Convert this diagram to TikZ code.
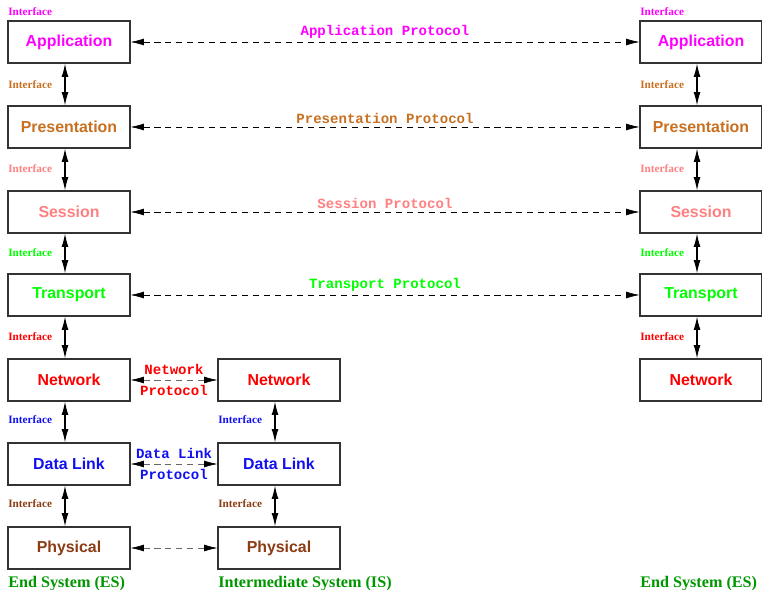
\documentclass[tikz,border=0pt]{standalone}
\usepackage{fontspec}
\setmainfont{Liberation Serif}
\setsansfont{Liberation Sans}
\setmonofont{Liberation Mono}
\usetikzlibrary{arrows.meta,positioning}
\definecolor{appcol}{RGB}{255,0,255}
\definecolor{prescol}{RGB}{200,112,32}
\definecolor{sesscol}{RGB}{255,128,128}
\definecolor{transcol}{RGB}{0,255,0}
\definecolor{netcol}{RGB}{255,0,0}
\definecolor{dlcol}{RGB}{16,16,240}
\definecolor{physcol}{RGB}{139,60,20}
\definecolor{syscol}{RGB}{0,150,0}

\begin{document}
\begin{tikzpicture}[x=0.025cm, y=-0.025cm,
	layer/.style = {draw=black!80, line width=0.8pt, fill=white, minimum width=3.05cm, minimum height=1.05cm, font=\sffamily\bfseries\fontsize{11.3}{13}\selectfont},
	iface/.style = {anchor=west, inner sep=0pt, font=\bfseries\fontsize{8}{9}\selectfont},
	ptext/.style = {font=\ttfamily\bfseries\fontsize{10}{11}\selectfont},
	sysname/.style = {anchor=west, inner sep=0pt, text=syscol, font=\bfseries\fontsize{11.5}{13}\selectfont},
	updown/.style = {{Latex[length=0.33cm,width=0.17cm]}-{Latex[length=0.33cm,width=0.17cm]}, thick, transform canvas={xshift=-0.1cm}},
	proto/.style = {{Latex[length=0.33cm,width=0.17cm,color=black]}-{Latex[length=0.33cm,width=0.17cm,color=black]}, dash pattern=on 4.3pt off 3.5pt},
	peer/.style = {proto, draw=black!60}]
	\useasboundingbox (0,0) rectangle (762,590);
	% end system, left
	\node[layer, text=appcol] (app-l) at (69,42) {Application};
	\node[layer, text=prescol] (pres-l) at (69,127) {Presentation};
	\node[layer, text=sesscol] (sess-l) at (69,212) {Session};
	\node[layer, text=transcol] (trans-l) at (69,295) {Transport};
	\node[layer, text=netcol] (net-l) at (69,380) {Network};
	\node[layer, text=dlcol] (dl-l) at (69,464) {Data Link};
	\node[layer, text=physcol] (phys-l) at (69,548) {Physical};
	% intermediate system
	\node[layer, text=netcol] (net-m) at (279,380) {Network};
	\node[layer, text=dlcol] (dl-m) at (279,464) {Data Link};
	\node[layer, text=physcol] (phys-m) at (279,548) {Physical};
	% end system, right
	\node[layer, text=appcol] (app-r) at (701,42) {Application};
	\node[layer, text=prescol] (pres-r) at (701,127) {Presentation};
	\node[layer, text=sesscol] (sess-r) at (701,212) {Session};
	\node[layer, text=transcol] (trans-r) at (701,295) {Transport};
	\node[layer, text=netcol] (net-r) at (701,380) {Network};

	% interfaces
	\node[iface, text=appcol] (if0-l) at (8,12) {Interface};
	\node[iface, text=prescol] (if1-l) at (8,85) {Interface};
	\node[iface, text=sesscol] (if2-l) at (8,169) {Interface};
	\node[iface, text=transcol] (if3-l) at (8,253) {Interface};
	\node[iface, text=netcol] (if4-l) at (8,337) {Interface};
	\node[iface, text=dlcol] (if5-l) at (8,420) {Interface};
	\node[iface, text=physcol] (if6-l) at (8,504) {Interface};
	\node[iface, text=dlcol] (if5-m) at (218,420) {Interface};
	\node[iface, text=physcol] (if6-m) at (218,504) {Interface};
	\node[iface, text=appcol] (if0-r) at (640,12) {Interface};
	\node[iface, text=prescol] (if1-r) at (640,85) {Interface};
	\node[iface, text=sesscol] (if2-r) at (640,169) {Interface};
	\node[iface, text=transcol] (if3-r) at (640,253) {Interface};
	\node[iface, text=netcol] (if4-r) at (640,337) {Interface};

	\draw[updown] (app-l) -- (pres-l);
	\draw[updown] (pres-l) -- (sess-l);
	\draw[updown] (sess-l) -- (trans-l);
	\draw[updown] (trans-l) -- (net-l);
	\draw[updown] (net-l) -- (dl-l);
	\draw[updown] (dl-l) -- (phys-l);
	\draw[updown] (net-m) -- (dl-m);
	\draw[updown] (dl-m) -- (phys-m);
	\draw[updown] (app-r) -- (pres-r);
	\draw[updown] (pres-r) -- (sess-r);
	\draw[updown] (sess-r) -- (trans-r);
	\draw[updown] (trans-r) -- (net-r);

	% peer protocols
	\draw[proto] (app-l) -- node[ptext, above=-1pt, text=appcol] {Application Protocol} (app-r);
	\draw[proto] (pres-l) -- node[ptext, above=-1pt, text=prescol] {Presentation Protocol} (pres-r);
	\draw[proto] (sess-l) -- node[ptext, above=-1pt, text=sesscol] {Session Protocol} (sess-r);
	\draw[proto] (trans-l) -- node[ptext, above=-1pt, text=transcol] {Transport Protocol} (trans-r);
	\draw[peer] (net-l) -- node[ptext, above=0pt, text=netcol] {Network} node[ptext, below=0pt, text=netcol] {Protocol} (net-m);
	\draw[peer] (dl-l) -- node[ptext, above=0pt, text=dlcol] {Data Link} node[ptext, below=0pt, text=dlcol] {Protocol} (dl-m);
	\draw[peer] (phys-l) -- (phys-m);

	\node[sysname] (es-l) at (8,584) {End System (ES)};
	\node[sysname] (is-m) at (218,584) {Intermediate System (IS)};
	\node[sysname] (es-r) at (640,584) {End System (ES)};
\end{tikzpicture}
\end{document}
